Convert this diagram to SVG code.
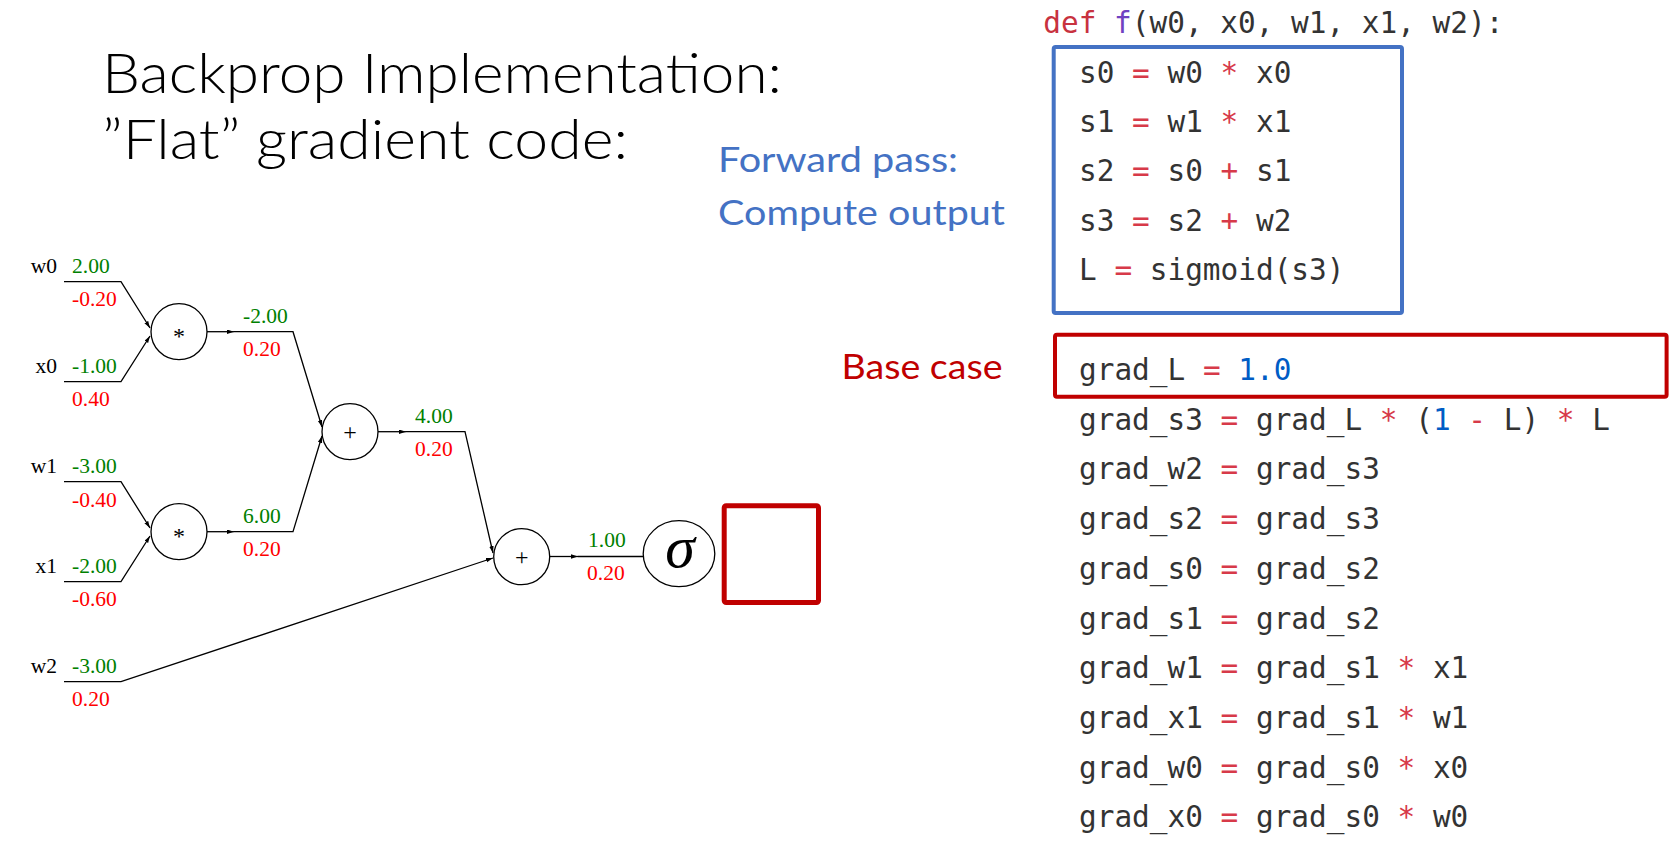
<svg xmlns="http://www.w3.org/2000/svg" width="1675" height="861" viewBox="0 0 1675 861">
<defs>
<marker id="ah" markerWidth="8" markerHeight="6" refX="7" refY="2.2" orient="auto" markerUnits="userSpaceOnUse"><path d="M0,0 L7,2.2 L0,4.4 z" fill="#000"/></marker>
</defs>
<style>
.ttl{font-family:Lato,'Open Sans',sans-serif;font-weight:300;font-size:56px;fill:#000}
.cal{font-family:Lato,'Open Sans',sans-serif;font-size:35.5px}
.blue{fill:#4472C4}
.dred{fill:#C00000}
.code{font-family:'DejaVu Sans Mono','Liberation Mono',monospace;font-size:29.4px;fill:#333}
.op{fill:#D73A49}
.num{fill:#005CC5}
.kw{fill:#C8323F}
.fn{fill:#6F42C1}
.serif{font-family:'Liberation Serif','Times New Roman',serif;font-size:21.5px}
.g{fill:#008000}
.r{fill:#FF0000}
.lbl{fill:#000;text-anchor:end}
.sym{font-family:'Liberation Serif','Times New Roman',serif;font-size:24px;text-anchor:middle;fill:#000}
.wire{fill:none;stroke:#000;stroke-width:1.3}
.node{fill:#fff;stroke:#000;stroke-width:1.3}
</style>
<rect width="1675" height="861" fill="#fff"/>

<g id="title">
<text class="ttl" x="102" y="92.7" textLength="680" lengthAdjust="spacingAndGlyphs">Backprop Implementation:</text>
<text class="ttl" x="102" y="159.3" textLength="526" lengthAdjust="spacingAndGlyphs">”Flat” gradient code:</text>
</g>

<g id="annotations">
<text class="cal blue" x="718" y="172" textLength="240" lengthAdjust="spacingAndGlyphs">Forward pass:</text>
<text class="cal blue" x="718" y="224.5" textLength="287" lengthAdjust="spacingAndGlyphs">Compute output</text>
<text class="cal dred" x="841.5" y="378.5" textLength="161" lengthAdjust="spacingAndGlyphs">Base case</text>
</g>

<g id="connectors">
<path class="wire" d="M64,281.7 H121 L150,328" marker-end="url(#ah)"/>
<path class="wire" d="M64,381.7 H121 L150,336" marker-end="url(#ah)"/>
<path class="wire" d="M64,481.7 H121 L150,528" marker-end="url(#ah)"/>
<path class="wire" d="M64,581.7 H121 L150,536" marker-end="url(#ah)"/>
<path class="wire" d="M207,331.7 H234" marker-end="url(#ah)"/>
<path class="wire" d="M234,331.7 H293 L322,427" marker-end="url(#ah)"/>
<path class="wire" d="M207,531.7 H234" marker-end="url(#ah)"/>
<path class="wire" d="M234,531.7 H293 L322,436" marker-end="url(#ah)"/>
<path class="wire" d="M378,431.7 H406" marker-end="url(#ah)"/>
<path class="wire" d="M406,431.7 H465 L493,553" marker-end="url(#ah)"/>
<path class="wire" d="M64,681.7 H121 L493,558" marker-end="url(#ah)"/>
<path class="wire" d="M550,556.5 H578" marker-end="url(#ah)"/>
<path class="wire" d="M578,556.5 H643.5"/>
</g>

<g id="edge-labels" class="serif">
<text class="lbl" x="57" y="273">w0</text>
<text class="g" x="72" y="273">2.00</text>
<text class="r" x="72" y="306">-0.20</text>
<text class="lbl" x="57" y="373">x0</text>
<text class="g" x="72" y="373">-1.00</text>
<text class="r" x="72" y="406">0.40</text>
<text class="lbl" x="57" y="473">w1</text>
<text class="g" x="72" y="473">-3.00</text>
<text class="r" x="72" y="506.5">-0.40</text>
<text class="lbl" x="57" y="573">x1</text>
<text class="g" x="72" y="573">-2.00</text>
<text class="r" x="72" y="606">-0.60</text>
<text class="lbl" x="57" y="673">w2</text>
<text class="g" x="72" y="673">-3.00</text>
<text class="r" x="72" y="706">0.20</text>
<text class="g" x="243" y="322.7">-2.00</text>
<text class="r" x="243" y="356">0.20</text>
<text class="g" x="243" y="523">6.00</text>
<text class="r" x="243" y="556">0.20</text>
<text class="g" x="415" y="423">4.00</text>
<text class="r" x="415" y="456">0.20</text>
<text class="g" x="588" y="547">1.00</text>
<text class="r" x="587" y="580">0.20</text>
</g>

<g id="mul0"><circle class="node" cx="179" cy="331.7" r="28"/><text class="sym" x="179" y="344">*</text></g>
<g id="mul1"><circle class="node" cx="179" cy="531.7" r="28"/><text class="sym" x="179" y="544">*</text></g>
<g id="add0"><circle class="node" cx="350" cy="431.7" r="28"/><text class="sym" x="350" y="440">+</text></g>
<g id="add1"><circle class="node" cx="521.7" cy="556.7" r="28"/><text class="sym" x="521.7" y="565">+</text></g>
<g id="sigmoid"><ellipse class="node" cx="679" cy="553.7" rx="35.8" ry="33"/><text x="680" y="567" style="font-family:'Liberation Serif','Times New Roman',serif;font-style:italic;font-size:60px;text-anchor:middle;fill:#000">σ</text></g>
<g id="output-box"><rect x="724.2" y="505.8" width="94.3" height="96.7" rx="2" fill="none" stroke="#C00000" stroke-width="5"/></g>

<g id="forward-code" class="code">
<text x="1043.3" y="33.3"><tspan class="kw">def</tspan> <tspan class="fn">f</tspan>(w0, x0, w1, x1, w2):</text>
<rect x="1053.7" y="47" width="348.3" height="266" rx="2" fill="none" stroke="#4472C4" stroke-width="4"/>
<text x="1079" y="82.7">s0 <tspan class="op">=</tspan> w0 <tspan class="op">*</tspan> x0</text>
<text x="1079" y="132">s1 <tspan class="op">=</tspan> w1 <tspan class="op">*</tspan> x1</text>
<text x="1079" y="181.3">s2 <tspan class="op">=</tspan> s0 <tspan class="op">+</tspan> s1</text>
<text x="1079" y="230.6">s3 <tspan class="op">=</tspan> s2 <tspan class="op">+</tspan> w2</text>
<text x="1079" y="280">L <tspan class="op">=</tspan> sigmoid(s3)</text>
</g>

<g id="backward-code" class="code">
<rect x="1055" y="334.8" width="611.6" height="62" rx="2" fill="none" stroke="#C00000" stroke-width="4"/>
<text x="1079" y="380">grad_L <tspan class="op">=</tspan> <tspan class="num">1.0</tspan></text>
<text x="1079" y="429.7">grad_s3 <tspan class="op">=</tspan> grad_L <tspan class="op">*</tspan> (<tspan class="num">1</tspan> <tspan class="op">-</tspan> L) <tspan class="op">*</tspan> L</text>
<text x="1079" y="479.4">grad_w2 <tspan class="op">=</tspan> grad_s3</text>
<text x="1079" y="529.1">grad_s2 <tspan class="op">=</tspan> grad_s3</text>
<text x="1079" y="578.8">grad_s0 <tspan class="op">=</tspan> grad_s2</text>
<text x="1079" y="628.5">grad_s1 <tspan class="op">=</tspan> grad_s2</text>
<text x="1079" y="678.2">grad_w1 <tspan class="op">=</tspan> grad_s1 <tspan class="op">*</tspan> x1</text>
<text x="1079" y="727.9">grad_x1 <tspan class="op">=</tspan> grad_s1 <tspan class="op">*</tspan> w1</text>
<text x="1079" y="777.6">grad_w0 <tspan class="op">=</tspan> grad_s0 <tspan class="op">*</tspan> x0</text>
<text x="1079" y="827.3">grad_x0 <tspan class="op">=</tspan> grad_s0 <tspan class="op">*</tspan> w0</text>
</g>
</svg>
